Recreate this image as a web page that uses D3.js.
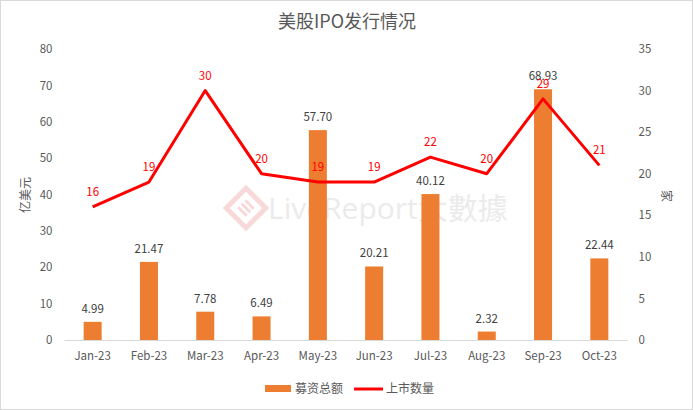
<!DOCTYPE html>
<html><head><meta charset="utf-8">
<script src="https://cdn.jsdelivr.net/npm/d3@7"></script>
<style>body{margin:0;background:#fff}svg{display:block;font-family:"Noto Sans CJK SC","Microsoft YaHei",sans-serif}</style>
</head><body><svg id="c" width="693" height="410"></svg>
<script>
const categories = ["Jan-23","Feb-23","Mar-23","Apr-23","May-23","Jun-23","Jul-23","Aug-23","Sep-23","Oct-23"];
const amounts = [4.99,21.47,7.78,6.49,57.70,20.21,40.12,2.32,68.93,22.44];
const counts = [16,19,30,20,19,19,22,20,29,21];
const leftTicks = [0,10,20,30,40,50,60,70,80];
const rightTicks = [0,5,10,15,20,25,30,35];

const svg = d3.select("#c");
const W = 693, H = 410;
const m = {l:64.5, r:627.5, t:49, b:340};
svg.append("rect").attr("x",0.5).attr("y",0.5).attr("width",W-1).attr("height",H-1).attr("fill","#fff").attr("stroke","#D9D9D9");

const x = d3.scaleBand().domain(categories).range([m.l,m.r]);
const yL = d3.scaleLinear().domain([0,80]).range([m.b,m.t]);
const yR = d3.scaleLinear().domain([0,35]).range([m.b,m.t]);

// watermark
const wm = svg.append("g").attr("transform","translate(246,208)");
wm.append("rect").attr("x",-14).attr("y",-14).attr("width",28).attr("height",28).attr("transform","rotate(45)").attr("fill","none").attr("stroke","#F7D9D9").attr("stroke-width",5);
wm.append("g").attr("transform","rotate(45)").selectAll("line").data([-5,0,5]).join("line")
  .attr("x1",-6).attr("x2",6).attr("y1",d=>d).attr("y2",d=>d).attr("stroke","#F7D9D9").attr("stroke-width",3);
svg.append("text").attr("x",268).attr("y",219).attr("font-size",30).attr("fill","#EBEBEB")
  .attr("font-family","'Open Sans','Noto Sans CJK SC',sans-serif").text("LiveReport大數據");

// title
svg.append("text").attr("x",347).attr("y",28).attr("text-anchor","middle").attr("font-size",18).attr("fill","#595959").text("美股IPO发行情况");

// axes
const gL = svg.append("g").attr("transform",`translate(${m.l},0)`)
  .call(d3.axisLeft(yL).tickValues(leftTicks).tickSize(0).tickPadding(12));
const gR = svg.append("g").attr("transform",`translate(${m.r},0)`)
  .call(d3.axisRight(yR).tickValues(rightTicks).tickSize(0).tickPadding(11));
const gX = svg.append("g").attr("transform",`translate(0,${m.b})`)
  .call(d3.axisBottom(x).tickSize(0).tickPadding(12));
[gL,gR,gX].forEach(g=>{g.select(".domain").remove();g.selectAll("text").attr("fill","#595959").attr("font-size",11.5).attr("font-family","'Noto Sans CJK SC',sans-serif");});
svg.append("line").attr("x1",m.l).attr("x2",m.r).attr("y1",m.b+0.5).attr("y2",m.b+0.5).attr("stroke","#D9D9D9");

svg.append("text").attr("transform","translate(30,195) rotate(-90)").attr("text-anchor","middle").attr("font-size",12).attr("fill","#595959").text("亿美元");
svg.append("text").attr("transform","translate(662,196) rotate(90)").attr("text-anchor","middle").attr("font-size",12).attr("fill","#595959").text("家");

// bars
const bw = 18;
svg.append("g").selectAll("rect").data(amounts).join("rect")
  .attr("x",(d,i)=>x(categories[i])+x.bandwidth()/2-bw/2).attr("width",bw)
  .attr("y",d=>yL(d)).attr("height",d=>m.b-yL(d)).attr("fill","#ED7D31");
svg.append("g").selectAll("text").data(amounts).join("text")
  .attr("x",(d,i)=>x(categories[i])+x.bandwidth()/2).attr("y",d=>yL(d)-9)
  .attr("text-anchor","middle").attr("font-size",11.5).attr("fill","#404040").text(d=>d.toFixed(2));

// line
const line = d3.line().x((d,i)=>x(categories[i])+x.bandwidth()/2).y(d=>yR(d));
svg.append("path").datum(counts).attr("d",line).attr("fill","none").attr("stroke","#FF0000").attr("stroke-width",3).attr("stroke-linejoin","round");
svg.append("g").selectAll("text").data(counts).join("text")
  .attr("x",(d,i)=>x(categories[i])+x.bandwidth()/2).attr("y",d=>yR(d)-11)
  .attr("text-anchor","middle").attr("font-size",11.5).attr("fill","#FF0000").text(d=>d);

// legend
const lg = svg.append("g");
lg.append("rect").attr("x",265).attr("y",385).attr("width",26).attr("height",7).attr("fill","#ED7D31");
lg.append("text").attr("x",295).attr("y",393).attr("font-size",12).attr("fill","#595959").text("募资总额");
lg.append("line").attr("x1",354).attr("x2",383).attr("y1",389).attr("y2",389).attr("stroke","#FF0000").attr("stroke-width",3);
lg.append("text").attr("x",386).attr("y",393).attr("font-size",12).attr("fill","#595959").text("上市数量");
</script></body></html>
